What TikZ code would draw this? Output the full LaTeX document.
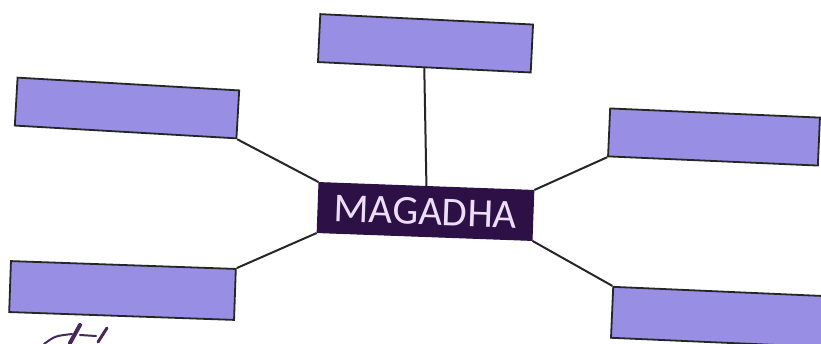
\documentclass[tikz,border=0pt]{standalone}
\usepackage{fontspec}
\setmainfont{Carlito}
\definecolor{boxfill}{RGB}{152,143,228}
\definecolor{hubfill}{RGB}{45,16,70}
\definecolor{hubtext}{RGB}{236,222,246}
\definecolor{inkmark}{RGB}{70,40,90}
\tikzset{
  blank/.style={draw=black!85, line width=1.8pt, fill=boxfill, rectangle,
    inner sep=0pt, minimum height=48pt},
  hub/.style={draw=hubfill, line width=1pt, fill=hubfill, rectangle, inner sep=0pt,
    minimum width=215pt, minimum height=50pt, text=hubtext,
    font=\fontsize{41}{41}\selectfont},
  link/.style={line width=2pt, draw=black!85}
}
\begin{document}
\begin{tikzpicture}[x=1pt,y=-1pt]
\useasboundingbox (0,0) rectangle (821,344);
\clip (0,0) rectangle (821,344);
\fill[white] (0,0) rectangle (821,344);

% central topic
\node[hub, rotate=-2.1] (mag) at (425.5,211.5) {MAGADHA};

% empty answer boxes around it
\node[blank, minimum width=213pt, rotate=-2.8] (top) at (425.5,43.3) {};
\node[blank, minimum width=222pt, rotate=-3.3] (lt) at (127,108) {};
\node[blank, minimum width=225pt, minimum height=51pt, rotate=-2.0] (lb) at (122.5,290.5) {};
\node[blank, minimum width=210pt, rotate=-2.5] (rt) at (714,137) {};
\node[blank, minimum width=215pt, minimum height=51pt, rotate=-2.5] (rb) at (719.5,317) {};

% connectors
\draw[link] (top.south) -- (mag.north);
\draw[link] (lt.south east) -- (mag.north west);
\draw[link] (lb.north east) -- (mag.south west);
\draw[link] (rt.south west) -- (mag.north east);
\draw[link] (rb.north west) -- (mag.south east);

% pen mark below the lower left box
\draw[inkmark, line width=2pt, line cap=round] (44,344) .. controls (55,336) .. (72,334);
\draw[inkmark, line width=4pt, line cap=round] (70,343) -- (80,325);
\draw[inkmark, line width=2pt, line cap=round] (80,335) -- (96,336);
\draw[inkmark, line width=3pt, line cap=round] (98,342) -- (107,328);
\end{tikzpicture}
\end{document}
